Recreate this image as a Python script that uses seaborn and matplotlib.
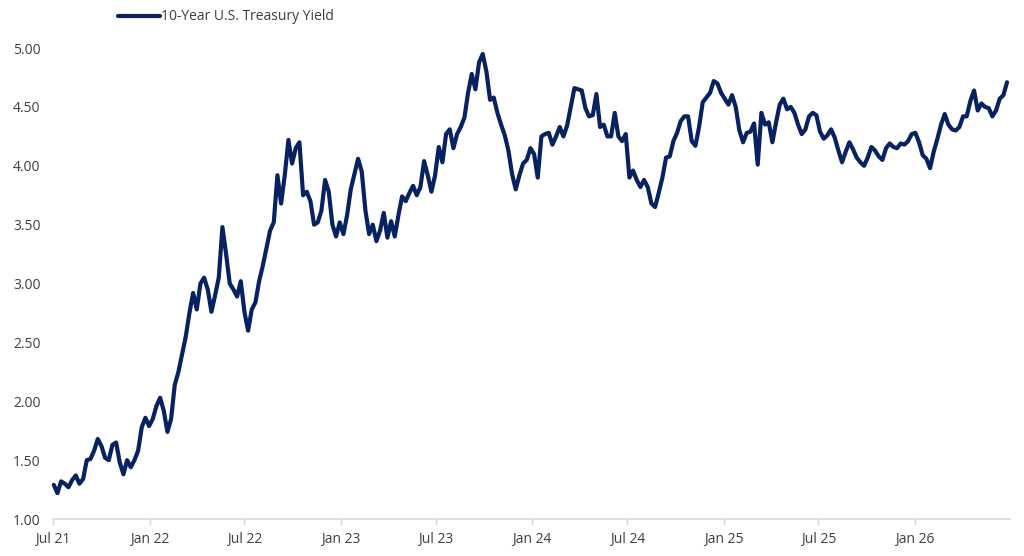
import pandas as pd
import matplotlib
matplotlib.use("Agg")
import matplotlib.pyplot as plt
import matplotlib.dates as mdates
import seaborn as sns

# weekly readings of the 10-year yield, Jul 2021 - Jun 2026
start_date = "2021-07-02"
series_name = "10-Year U.S. Treasury Yield"

y2021 = [1.29, 1.22, 1.32, 1.30, 1.27, 1.33, 1.37, 1.30, 1.34, 1.50,
         1.51, 1.58, 1.68, 1.62, 1.52, 1.50, 1.63, 1.65, 1.48, 1.38,
         1.50, 1.44, 1.50, 1.58, 1.78, 1.86]
y2022 = [1.79, 1.85, 1.96, 2.03, 1.92, 1.74, 1.85, 2.14, 2.25, 2.40,
         2.55, 2.75, 2.92, 2.78, 3.00, 3.05, 2.95, 2.76, 2.90, 3.05,
         3.48, 3.25, 3.00, 2.95, 2.89, 3.02, 2.76, 2.60, 2.78, 2.84,
         3.02, 3.15, 3.30, 3.45, 3.52, 3.92, 3.68, 3.92, 4.22, 4.02,
         4.15, 4.20, 3.75, 3.78, 3.70, 3.50, 3.52, 3.62, 3.88, 3.78,
         3.50, 3.40]
y2023 = [3.52, 3.42, 3.58, 3.80, 3.93, 4.06, 3.95, 3.62, 3.42, 3.50,
         3.36, 3.45, 3.60, 3.39, 3.53, 3.40, 3.58, 3.74, 3.70, 3.77,
         3.83, 3.75, 3.82, 4.04, 3.92, 3.78, 3.92, 4.16, 4.03, 4.27,
         4.31, 4.15, 4.27, 4.33, 4.41, 4.62, 4.78, 4.65, 4.88, 4.95,
         4.80, 4.56, 4.58, 4.45, 4.35, 4.26, 4.13, 3.93, 3.80, 3.92,
         4.02, 4.05, 4.15]
y2024 = [4.10, 3.90, 4.25, 4.27, 4.28, 4.18, 4.25, 4.33, 4.25, 4.34,
         4.50, 4.66, 4.65, 4.64, 4.49, 4.42, 4.43, 4.61, 4.33, 4.35,
         4.25, 4.25, 4.45, 4.25, 4.21, 4.27, 3.90, 3.96, 3.88, 3.82,
         3.88, 3.82, 3.68, 3.65, 3.77, 3.90, 4.07, 4.08, 4.21, 4.28,
         4.38, 4.42, 4.42, 4.21, 4.17, 4.33, 4.54, 4.58, 4.62, 4.72,
         4.70]
y2025 = [4.62, 4.57, 4.52, 4.60, 4.50, 4.30, 4.20, 4.28, 4.29, 4.36,
         4.01, 4.45, 4.35, 4.37, 4.20, 4.37, 4.52, 4.57, 4.48, 4.50,
         4.45, 4.35, 4.27, 4.31, 4.42, 4.45, 4.43, 4.29, 4.23, 4.26,
         4.31, 4.24, 4.13, 4.03, 4.12, 4.20, 4.14, 4.07, 4.03, 4.00,
         4.07, 4.16, 4.13, 4.08, 4.05, 4.15, 4.19, 4.16, 4.15, 4.19,
         4.18, 4.21]
y2026 = [4.27, 4.28, 4.20, 4.09, 4.06, 3.98, 4.12, 4.23, 4.35, 4.44,
         4.35, 4.31, 4.30, 4.33, 4.42, 4.42, 4.55, 4.64, 4.47, 4.53,
         4.50, 4.49, 4.42, 4.47, 4.57, 4.60, 4.71]

tick_dates = ["2021-07-01", "2022-01-01", "2022-07-01", "2023-01-01",
              "2023-07-01", "2024-01-01", "2024-07-01", "2025-01-01",
              "2025-07-01", "2026-01-01"]
y_ticks = [1.00, 1.50, 2.00, 2.50, 3.00, 3.50, 4.00, 4.50, 5.00]

values = y2021 + y2022 + y2023 + y2024 + y2025 + y2026
df = pd.DataFrame({
    "date": pd.date_range(start_date, periods=len(values), freq="7D"),
    "yield": values,
})

sns.set_theme(style="white")
plt.rcParams["font.family"] = ["Open Sans", "DejaVu Sans"]

navy = "#072161"
text_col = "#3f3f3f"

fig = plt.figure(figsize=(10.24, 5.56), dpi=100)
ax = fig.add_axes([0.052, 0.0665, 0.934, 0.847])

sns.lineplot(data=df, x="date", y="yield", ax=ax, color=navy,
             linewidth=3.0, label=series_name, clip_on=False)

ax.set_xlim(pd.Timestamp("2021-07-01"), pd.Timestamp("2026-07-01"))
ax.set_ylim(1.0, 5.0)
ax.set_xticks(pd.to_datetime(tick_dates))
ax.xaxis.set_major_formatter(mdates.DateFormatter("%b %y"))
ax.set_yticks(y_ticks)
ax.set_yticklabels([f"{t:.2f}" for t in y_ticks])
ax.set_xlabel("")
ax.set_ylabel("")

for side in ["left", "right", "top"]:
    ax.spines[side].set_visible(False)
ax.spines["bottom"].set_color("#d9d9d9")
ax.spines["bottom"].set_linewidth(1.2)

ax.tick_params(axis="x", which="major", bottom=True, length=4, width=1,
               color="#d9d9d9", labelsize=10, labelcolor=text_col, pad=5)
ax.tick_params(axis="y", left=False, length=0, labelsize=10,
               labelcolor=text_col, pad=9)

ax.legend(loc="center left", bbox_to_anchor=(118 / 1024, 1 - 17 / 556),
          bbox_transform=fig.transFigure, frameon=False, fontsize=10,
          handlelength=3.0, handletextpad=0.1, borderpad=0,
          borderaxespad=0, labelcolor=text_col)

fig.savefig("out.png", dpi=100, facecolor="white")
